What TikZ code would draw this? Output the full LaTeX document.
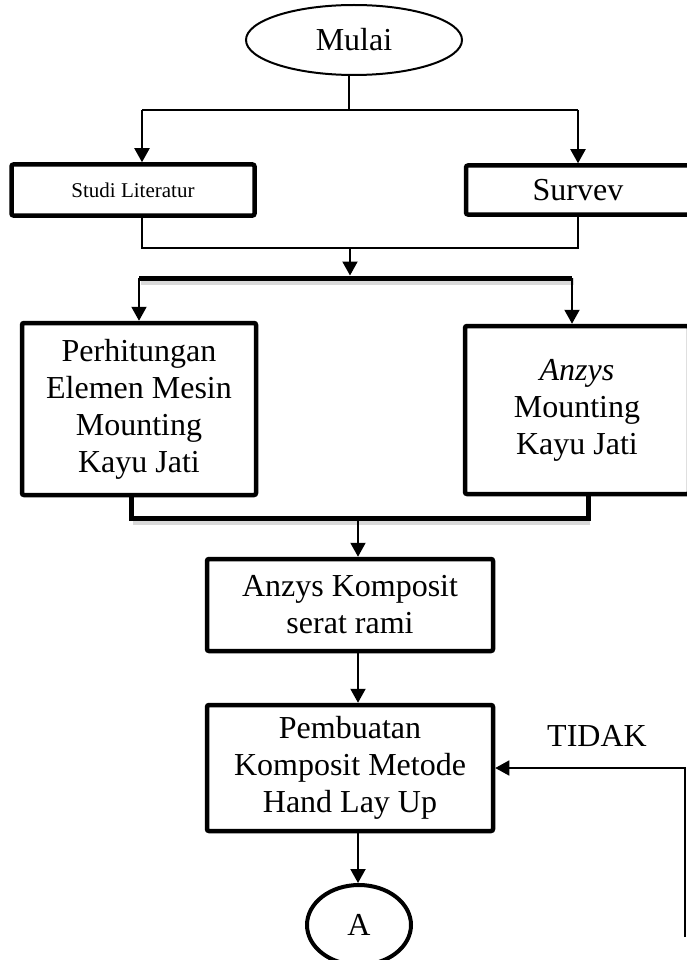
\documentclass[tikz,border=0pt]{standalone}
\usepackage{fontspec}
\setmainfont{Liberation Serif}
\usetikzlibrary{shapes.geometric,arrows.meta}
\begin{document}
\begin{tikzpicture}[x=1pt,y=-1pt, every node/.style={font=\fontsize{32}{37}\selectfont},
  box/.style={draw,line width=4.5pt,rounded corners=2pt,align=center,inner sep=0pt},
  term/.style={draw,ellipse,inner sep=0pt},
  arr/.style={-{Triangle[length=14pt,width=15pt]},line width=2pt},
  lin/.style={line width=1.6pt},
  bar/.style={line width=5pt},
  shade/.style={line width=7pt,draw=black!15}]
\useasboundingbox (0,0) rectangle (687,960);
\node[term,line width=2pt,minimum width=216pt,minimum height=70pt] (mulai) at (354,40) {Mulai};
\node[box,minimum width=243pt,minimum height=51pt,font=\fontsize{21}{25}\selectfont] (studi) at (133,190) {Studi Literatur};
\node[box,minimum width=224pt,minimum height=49pt] (survei) at (578,190) {Survev};
\node[box,minimum width=234pt,minimum height=172pt] (hitung) at (139,409) {Perhitungan\\Elemen Mesin\\Mounting\\Kayu Jati};
\node[box,minimum width=224pt,minimum height=168pt] (anzys) at (577,410) {\textit{Anzys}\\Mounting\\Kayu Jati};
\node[box,minimum width=286pt,minimum height=92pt] (komposit) at (350,605) {Anzys Komposit\\serat rami};
\node[box,minimum width=286pt,minimum height=126pt] (buat) at (350,768) {Pembuatan\\Komposit Metode\\Hand Lay Up};
\node[term,line width=4pt,minimum width=104pt,minimum height=80pt] (a) at (359,925) {A};
\node (tidak) at (597,736) {TIDAK};
% titik cabang
\coordinate (s1) at (349,110);
\coordinate (s1l) at (142,110);
\coordinate (s1r) at (578,110);
\coordinate (s2l) at (142,248);
\coordinate (s2r) at (578,248);
\coordinate (s2) at (350,248);
\coordinate (s3) at (350,278);
\coordinate (s3l) at (139,278);
\coordinate (s3r) at (572,278);
\coordinate (s4l) at (131,518);
\coordinate (s4r) at (588,518);
\coordinate (s4) at (358,518);
\coordinate (balik) at (685,937);
% mulai ke studi / survei
\draw[lin] (mulai.south -| s1) -- (s1);
\draw[lin] (s1l) -- (s1r);
\draw[arr] (s1l) -- (s1l |- studi.north);
\draw[arr] (s1r) -- (s1r |- survei.north);
\draw[lin] (studi.south -| s2l) -- (s2l) -- (s2r) -- (survei.south -| s2r);
\draw[arr,shorten >=2.5pt] (s2) -- (s3);
% garis tebal
\draw[shade] ([shift={(2,3)}]s3l) -- ([shift={(2,3)}]s3r);
\draw[bar] (s3l) -- (s3r);
\draw[arr] (s3l) -- (s3l |- hitung.north);
\draw[arr] (s3r) -- (s3r |- anzys.north);
\draw[shade] ([shift={(2,3)}]s4l) -- ([shift={(2,3)}]s4r);
\draw[bar] (hitung.south -| s4l) -- (s4l) -- (s4r) -- (anzys.south -| s4r);
\draw[arr,shorten <=2.5pt] (s4) -- (komposit.north -| s4);
\draw[arr] (komposit.south -| s4) -- (buat.north -| s4);
\draw[arr] (buat.south -| s4) -- (a.north -| s4);
% umpan balik
\draw[arr,line width=1.6pt] (balik) -- (balik |- buat.east) -- (buat.east);
\end{tikzpicture}
\end{document}
